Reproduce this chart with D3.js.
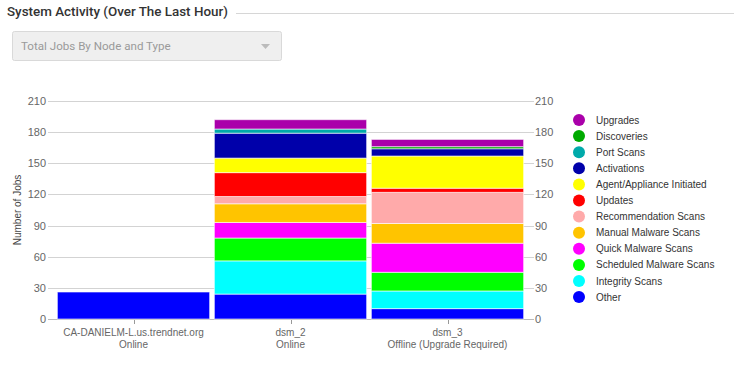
<!DOCTYPE html>
<html>
<head>
<meta charset="utf-8">
<script src="https://cdn.jsdelivr.net/npm/d3@7"></script>
<style>
  body { margin: 0; background: #fff; }
  svg { display: block; font-family: "Liberation Sans", Arial, sans-serif; }
</style>
</head>
<body>
<svg id="chart"></svg>
<script>
// categories (node name + status)
const nodes = ['CA-DANIELM-L.us.trendnet.org', 'dsm_2', 'dsm_3']
const statuses = ['Online', 'Online', 'Offline (Upgrade Required)']

// series, bottom to top of the stack
const seriesNames = ['Other', 'Integrity Scans', 'Scheduled Malware Scans', 'Quick Malware Scans',
    'Manual Malware Scans', 'Recommendation Scans', 'Updates', 'Agent/Appliance Initiated',
    'Activations', 'Port Scans', 'Discoveries', 'Upgrades']
const seriesColors = ['#0000ff', '#00ffff', '#00ff00', '#ff00ff', '#ffc400', '#ffaaaa',
    '#ff0000', '#ffff00', '#0000aa', '#00aaaa', '#00aa00', '#aa00aa']

const other = [26, 24, 10]
const integrity = [0, 32, 17]
const scheduled = [0, 22, 18]
const quick = [0, 15, 28]
const manual = [0, 18, 19]
const recommendation = [0, 7, 30]
const updates = [0, 23, 4]
const agent = [0, 14, 31]
const activations = [0, 24, 7]
const portScans = [0, 4, 0]
const discoveries = [0, 0, 2]
const upgrades = [0, 9, 7]

const yTicks = [0, 30, 60, 90, 120, 150, 180, 210]

const seriesValues = [other, integrity, scheduled, quick, manual, recommendation,
    updates, agent, activations, portScans, discoveries, upgrades]

const width = 734, height = 371

let svg = d3.select('#chart')
    .attr('width', width)
    .attr('height', height)

// Header
svg.append('text')
    .attr('x', 7)
    .attr('y', 16)
    .style('font-family', 'Roboto, sans-serif')
    .style('font-weight', 500)
    .style('font-size', '13.4px')
    .style('fill', '#333')
    .text('System Activity (Over The Last Hour)')

svg.append('line')
    .attr('x1', 236).attr('x2', width)
    .attr('y1', 13.5).attr('y2', 13.5)
    .style('stroke', '#d6d6d6')

// Dropdown (disabled look)
svg.append('rect')
    .attr('x', 12.5).attr('y', 31.5)
    .attr('width', 269).attr('height', 29)
    .attr('rx', 2)
    .style('fill', '#efefef')
    .style('stroke', '#d9d9d9')

svg.append('text')
    .attr('x', 21)
    .attr('y', 50)
    .style('font-family', 'Roboto, sans-serif')
    .style('font-size', '11.6px')
    .style('fill', '#9a9a9a')
    .text('Total Jobs By Node and Type')

svg.append('path')
    .attr('d', 'M261,44 L270,44 L265.5,49 Z')
    .style('fill', '#bbb')

// Scales
let x = d3.scaleBand()
    .domain(nodes)
    .range([55, 526])
    .paddingInner(0.03)
    .paddingOuter(0.015)

let y = d3.scaleLinear()
    .domain([0, 210])
    .range([319, 101])

// Gridlines + left/right ticks
let grid = svg.append('g')
grid.selectAll('line')
    .data(yTicks)
    .enter().append('line')
    .attr('x1', 48).attr('x2', 534)
    .attr('y1', d => Math.round(y(d)) + 0.5)
    .attr('y2', d => Math.round(y(d)) + 0.5)
    .style('stroke', d => d === 0 ? '#bbb' : '#d3d3d3')

let leftAxis = d3.axisLeft(y).tickValues(yTicks).tickSize(0).tickPadding(0)
svg.append('g')
    .attr('transform', 'translate(46,0)')
    .call(leftAxis)
    .call(g => g.select('.domain').remove())
    .call(g => g.selectAll('text').style('fill', '#666').style('font-size', '11px')
        .style('font-family', '"Liberation Sans", Arial, sans-serif'))

let rightAxis = d3.axisRight(y).tickValues(yTicks).tickSize(0).tickPadding(0)
svg.append('g')
    .attr('transform', 'translate(535,0)')
    .call(rightAxis)
    .call(g => g.select('.domain').remove())
    .call(g => g.selectAll('text').style('fill', '#666').style('font-size', '11px')
        .style('font-family', '"Liberation Sans", Arial, sans-serif'))

// Y axis title
svg.append('text')
    .attr('transform', 'translate(21,210) rotate(-90)')
    .attr('text-anchor', 'middle')
    .style('font-size', '10px')
    .style('fill', '#444')
    .text('Number of Jobs')

// Stack data
let table = nodes.map((n, i) => {
    let row = { node: n }
    seriesNames.forEach((s, j) => { row[s] = seriesValues[j][i] })
    return row
})
let stacked = d3.stack().keys(seriesNames)(table)
let color = d3.scaleOrdinal().domain(seriesNames).range(seriesColors)

let bars = svg.append('g')
bars.selectAll('g')
    .data(stacked)
    .enter().append('g')
    .style('fill', d => color(d.key))
    .selectAll('rect')
    .data(d => d.filter(p => p[1] - p[0] > 0))
    .enter().append('rect')
    .attr('x', d => x(d.data.node))
    .attr('width', x.bandwidth())
    .attr('y', d => y(d[1]))
    .attr('height', d => y(d[0]) - y(d[1]))
    .style('stroke', '#fff')
    .style('stroke-opacity', 0.6)
    .style('stroke-width', 1)

// X axis ticks + labels
let xa = svg.append('g')
nodes.forEach((n, i) => {
    let cx = x(n) + x.bandwidth() / 2
    xa.append('line')
        .attr('x1', Math.round(cx) + 0.5).attr('x2', Math.round(cx) + 0.5)
        .attr('y1', 320).attr('y2', 324)
        .style('stroke', '#999')
    xa.append('text')
        .attr('x', cx).attr('y', 336)
        .attr('text-anchor', 'middle')
        .style('font-size', '10px')
        .style('fill', '#666')
        .text(n)
    xa.append('text')
        .attr('x', cx).attr('y', 348)
        .attr('text-anchor', 'middle')
        .style('font-size', '10px')
        .style('fill', '#666')
        .text(statuses[i])
})

// Legend (top item is the top of the stack)
let legendItems = seriesNames.slice().reverse()
let legend = svg.append('g')
    .selectAll('g')
    .data(legendItems)
    .enter().append('g')
    .attr('transform', (d, i) => 'translate(579,' + (120 + i * 16.1) + ')')

legend.append('circle')
    .attr('r', 6)
    .style('fill', d => color(d))

legend.append('text')
    .attr('x', 17)
    .attr('y', 3.5)
    .style('font-size', '10px')
    .style('fill', '#333')
    .text(d => d)
</script>
</body>
</html>
